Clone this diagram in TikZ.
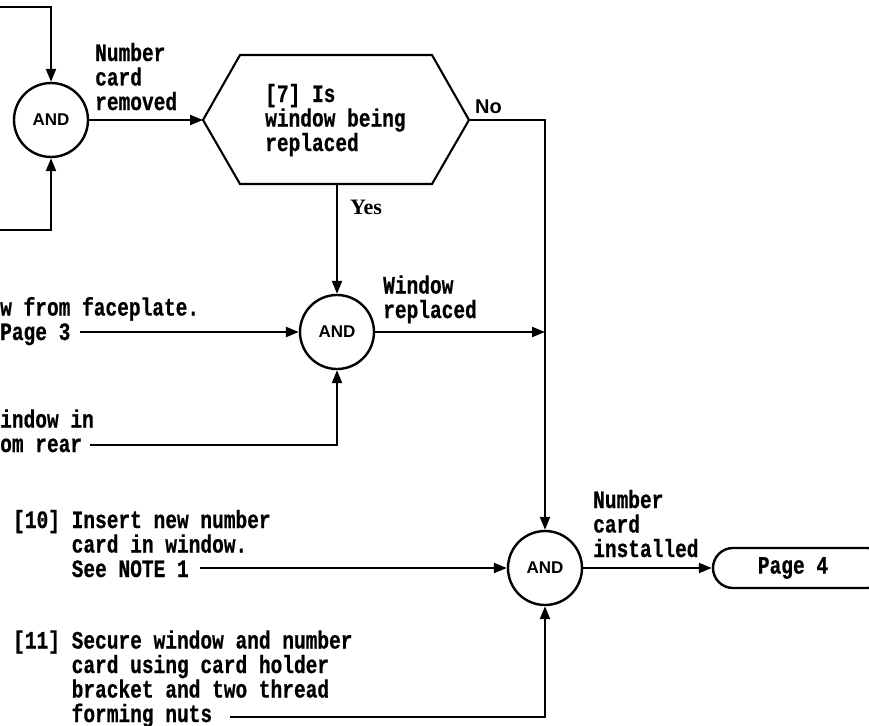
\documentclass[tikz,border=0pt]{standalone}
\usepackage{fontspec}
\usetikzlibrary{arrows.meta,shapes.misc}
\newfontfamily\typefont{Liberation Mono}[FakeStretch=0.78,FakeBold=0.6]
\newfontfamily\gatefont{Liberation Sans}
\newfontfamily\answerfont{Liberation Serif}
\tikzstyle{arrow} = [line width=2.1pt,-{Triangle[length=13pt,width=10pt]}]
\tikzstyle{line} = [line width=2.1pt]
\tikzstyle{andgate} = [draw,circle,line width=2.4pt,minimum size=74pt,inner sep=0pt,font=\gatefont\bfseries\fontsize{17}{17}\selectfont]
\tikzstyle{flowtext} = [anchor=base west,inner sep=0pt,align=left,font=\typefont\bfseries\fontsize{25}{24.5}\selectfont]
\tikzstyle{answer} = [anchor=base west,inner sep=0pt,font=\answerfont\bfseries\fontsize{22}{22}\selectfont]
\tikzstyle{terminal} = [draw,rounded rectangle,line width=2.4pt,minimum width=174pt,minimum height=40pt,inner sep=0pt,font=\typefont\bfseries\fontsize{25}{24.5}\selectfont]

\begin{document}
\begin{tikzpicture}[x=1pt,y=1pt,yscale=-1]
\useasboundingbox (0,0) rectangle (869,725);
\clip (0,0) rectangle (869,725);

%Shape: AND gates
\node[andgate] (and-a) at (51,120) {AND};
\node[andgate] (and-b) at (337,332) {AND};
\node[andgate] (and-c) at (545,568) {AND};

%Shape: Hexagon [7]
\coordinate (dec-w) at (203,120);
\coordinate (dec-e) at (469,120);
\coordinate (dec-s) at (337,184);
\draw[line] (dec-w) -- (240,55) -- (432,55) -- (dec-e) -- (432,184) -- (240,184) -- cycle;
% Text Node
\node[flowtext] (dec-text) at (265,151) {[7] Is\\window being\\replaced};

%Shape: Terminal
\node[terminal] (page-4) at (800,568) {\hspace*{-14pt}Page 4};

%Free ends
\coordinate (in-top) at (0,7);
\coordinate (in-bot) at (0,230);
\coordinate (from-face) at (80,332);
\coordinate (from-rear) at (90,445);
\coordinate (from-10) at (200,568);
\coordinate (from-11) at (230,717);

%Connectors
\draw[arrow] (in-top) -| (and-a);
\draw[arrow] (in-bot) -| (and-a);
\draw[arrow] (and-a) -- (dec-w);
\draw[arrow] (dec-s) -- (and-b);
\draw[arrow] (from-face) -- (and-b);
\draw[arrow] (from-rear) -| (and-b);
\draw[arrow] (and-b) -- (and-b -| and-c);
\draw[arrow] (dec-e) -| (and-c);
\draw[arrow] (from-10) -- (and-c);
\draw[arrow] (from-11) -| (and-c);
\draw[arrow] (and-c) -- (page-4);

% Text Node
\node[flowtext] (lbl-removed) at (95,110) {Number\\card\\removed};
% Text Node
\node[answer] (lbl-yes) at (350,214) {Yes};
% Text Node
\node[answer,font=\gatefont\bfseries\fontsize{20}{20}\selectfont] (lbl-no) at (475,113) {No};
% Text Node
\node[flowtext] (lbl-replaced) at (383,318) {Window\\replaced};
% Text Node
\node[flowtext] (txt-face) at (0,340) {w from faceplate.\\Page 3};
% Text Node
\node[flowtext] (txt-rear) at (0,452) {indow in\\om rear};
% Text Node
\node[flowtext] (txt-10) at (13,577) {[10] Insert new number\\\phantom{[10] }card in window.\\\phantom{[10] }See NOTE 1};
% Text Node
\node[flowtext] (txt-11) at (13,722) {[11] Secure window and number\\\phantom{[11] }card using card holder\\\phantom{[11] }bracket and two thread\\\phantom{[11] }forming nuts};
% Text Node
\node[flowtext] (lbl-installed) at (593,557) {Number\\card\\installed};

\end{tikzpicture}
\end{document}
